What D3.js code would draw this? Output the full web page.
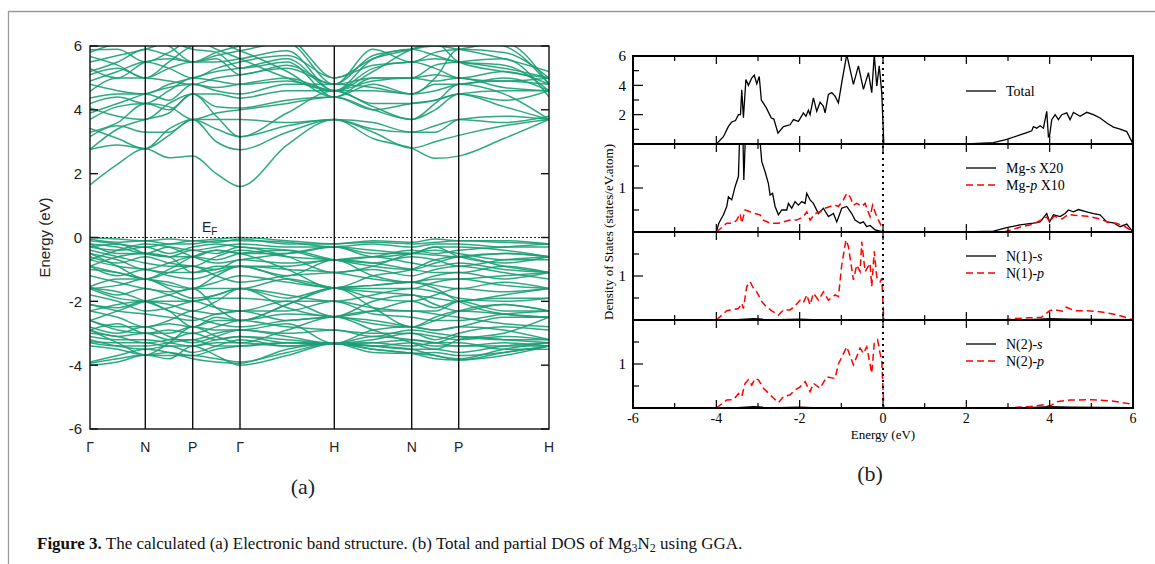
<!DOCTYPE html>
<html>
<head>
<meta charset="utf-8">
<script src="https://cdn.jsdelivr.net/npm/d3@7"></script>
<style>
  body { margin: 0; background: #fff; }
  svg { display: block; }
</style>
</head>
<body>
<script>
// ---------- data ----------
// k-path (distance along path) and labels
var kLabels = ["\u0393", "N", "P", "\u0393", "H", "N", "P", "H"];
var kDist = [0, 55.3, 102.7, 150, 244.3, 321.7, 368.7, 459];

// band energies (eV) at: G, mid, N, mid, P, mid, G, mid, H, mid, N, mid, P, mid, H
var conductionBands = [
  [1.65, 2.3, 2.78, 2.5, 2.55, 2.0, 1.6, 2.9, 3.7, 3.1, 2.8, 2.48, 2.55, 3.1, 3.7],
  [2.76, 2.9, 2.78, 3.2, 3.7, 3.0, 2.75, 3.3, 3.7, 3.3, 2.8, 3.0, 3.2, 3.5, 3.7],
  [3.16, 3.5, 3.3, 3.3, 3.7, 3.4, 3.16, 3.5, 3.7, 3.6, 3.3, 3.3, 3.7, 3.8, 3.7],
  [3.42, 3.1, 2.78, 3.4, 3.7, 3.7, 3.7, 3.6, 3.7, 3.4, 3.3, 3.5, 3.7, 3.6, 3.8],
  [3.7, 4.1, 4.2, 4.0, 4.5, 4.1, 4.06, 4.3, 4.4, 4.0, 3.7, 4.0, 4.5, 4.3, 4.6],
  [4.06, 3.8, 3.7, 4.2, 4.5, 4.5, 4.37, 4.6, 4.6, 4.2, 4.2, 4.3, 4.5, 4.6, 4.6],
  [4.37, 4.5, 4.5, 4.3, 4.8, 4.7, 4.8, 5.0, 4.6, 4.6, 4.5, 4.8, 4.8, 5.0, 4.6],
  [4.58, 5.0, 5.0, 4.9, 4.8, 5.0, 5.1, 5.3, 4.8, 5.0, 5.0, 5.1, 5.0, 5.2, 4.8],
  [4.8, 4.6, 4.5, 4.8, 5.0, 5.2, 5.3, 5.6, 4.6, 5.3, 5.5, 5.3, 5.0, 4.9, 5.0],
  [5.1, 5.3, 5.0, 5.3, 5.5, 5.5, 5.6, 5.85, 4.6, 5.6, 5.9, 5.7, 5.5, 5.4, 4.6],
  [5.3, 5.0, 5.5, 5.6, 5.5, 5.7, 5.85, 6.1, 4.8, 5.9, 5.5, 5.8, 5.9, 6.1, 4.8],
  [5.5, 5.7, 5.9, 6.1, 5.9, 5.8, 5.3, 5.5, 4.4, 5.0, 5.0, 5.4, 5.5, 5.6, 4.4],
  [5.67, 5.4, 5.0, 5.5, 6.0, 6.1, 5.85, 5.2, 4.4, 4.8, 4.5, 5.0, 5.9, 5.8, 5.0],
  [5.88, 5.9, 5.5, 5.8, 6.2, 5.9, 5.6, 5.0, 4.6, 5.2, 5.9, 6.1, 6.2, 6.0, 4.8],
  [2.76, 3.4, 3.7, 3.9, 4.5, 3.8, 3.16, 3.9, 4.6, 4.1, 3.7, 4.2, 4.8, 4.5, 3.7],
  [3.9, 4.2, 4.5, 4.7, 4.8, 4.6, 4.5, 4.8, 4.8, 4.7, 4.5, 4.6, 4.8, 4.9, 4.8],
  [4.2, 4.4, 4.2, 4.6, 5.0, 4.9, 4.8, 4.9, 4.6, 4.9, 5.0, 4.9, 5.0, 4.7, 4.6],
  [4.9, 5.2, 5.5, 5.3, 5.0, 5.3, 5.5, 5.7, 5.0, 5.4, 5.5, 5.6, 5.5, 5.3, 5.0],
  [5.2, 5.5, 5.9, 5.7, 5.5, 5.6, 5.1, 5.4, 4.8, 5.7, 5.9, 6.0, 5.9, 5.6, 5.2],
  [3.3, 3.6, 4.2, 4.1, 3.7, 3.9, 4.0, 4.2, 4.4, 4.0, 4.2, 4.3, 4.5, 4.1, 3.7],
  [5.8, 6.1, 6.3, 6.0, 5.5, 5.8, 6.0, 6.2, 5.0, 5.6, 5.9, 6.1, 5.5, 5.2, 5.0]
];
var valenceBands = [
  [0, -0.05, -0.1, -0.05, -0.1, -0.05, 0, -0.1, -0.2, -0.1, -0.15, -0.05, -0.1, -0.1, -0.2],
  [-0.05, -0.15, -0.1, -0.2, -0.1, -0.15, -0.05, -0.2, -0.2, -0.15, -0.2, -0.15, -0.1, -0.15, -0.2],
  [-0.2, -0.3, -0.5, -0.3, -0.4, -0.3, -0.2, -0.3, -0.3, -0.4, -0.5, -0.3, -0.3, -0.4, -0.6],
  [-0.2, -0.5, -0.5, -0.6, -0.6, -0.4, -0.5, -0.5, -0.3, -0.5, -0.5, -0.55, -0.6, -0.5, -0.6],
  [-0.5, -0.7, -1.0, -0.8, -0.6, -0.7, -0.5, -0.4, -0.7, -0.9, -1.0, -0.8, -0.6, -0.5, -0.6],
  [-0.7, -0.9, -1.0, -1.1, -1.1, -0.9, -0.9, -0.9, -0.7, -0.8, -1.0, -1.1, -1.1, -0.9, -1.1],
  [-0.9, -0.6, -0.5, -0.6, -1.1, -1.0, -0.9, -1.2, -0.7, -1.2, -1.4, -1.2, -1.1, -1.3, -1.1],
  [-0.9, -1.1, -1.3, -1.4, -1.6, -1.2, -0.9, -1.3, -1.58, -1.5, -1.4, -1.5, -1.6, -1.4, -1.6],
  [-1.54, -1.3, -1.3, -1.5, -1.6, -1.6, -1.6, -1.3, -1.58, -1.7, -1.8, -1.9, -2.0, -1.8, -1.6],
  [-1.54, -1.8, -1.6, -1.8, -2.0, -1.8, -1.6, -1.9, -1.58, -1.9, -2.0, -1.8, -1.6, -1.7, -1.6],
  [-1.6, -1.9, -2.0, -2.1, -2.3, -2.0, -1.6, -2.2, -2.48, -2.0, -1.8, -2.1, -2.3, -2.1, -2.3],
  [-2.1, -2.2, -2.0, -2.0, -2.0, -2.2, -2.3, -2.0, -2.48, -2.3, -2.0, -2.2, -2.0, -2.3, -2.3],
  [-2.3, -2.5, -2.8, -2.6, -2.3, -2.4, -2.3, -2.6, -2.48, -2.7, -2.8, -2.5, -2.3, -2.4, -2.5],
  [-2.6, -2.8, -2.8, -2.7, -2.8, -2.6, -2.6, -2.4, -2.48, -2.6, -2.8, -2.9, -2.8, -2.5, -2.5],
  [-2.9, -2.7, -3.0, -3.0, -2.8, -2.9, -2.9, -2.7, -3.32, -2.9, -2.8, -2.9, -2.8, -2.9, -3.2],
  [-2.9, -3.1, -3.0, -3.2, -3.2, -3.0, -2.9, -3.1, -3.32, -3.2, -3.0, -3.1, -3.2, -3.1, -3.2],
  [-3.1, -3.2, -3.2, -3.3, -3.4, -3.2, -3.1, -3.2, -3.32, -3.3, -3.2, -3.3, -3.4, -3.3, -3.4],
  [-3.27, -3.3, -3.3, -3.4, -3.4, -3.3, -3.3, -3.4, -3.32, -3.4, -3.3, -3.4, -3.4, -3.4, -3.4],
  [-3.4, -3.5, -3.68, -3.6, -3.7, -3.5, -3.4, -3.3, -3.32, -3.5, -3.63, -3.7, -3.84, -3.6, -3.4],
  [-3.94, -3.8, -3.68, -3.7, -3.7, -3.8, -3.9, -3.6, -3.32, -3.5, -3.63, -3.8, -3.84, -3.7, -3.4],
  [-4.0, -3.9, -3.68, -3.8, -3.4, -3.7, -4.0, -3.7, -3.32, -3.6, -3.63, -3.6, -3.7, -3.6, -3.4],
  [-1.6, -1.7, -2.0, -2.3, -2.8, -2.5, -2.6, -2.1, -1.58, -2.2, -2.8, -2.6, -2.3, -2.1, -2.3],
  [-2.6, -2.3, -2.0, -1.8, -1.6, -2.2, -2.6, -2.1, -1.58, -1.5, -1.4, -1.6, -2.0, -2.4, -2.5],
  [-0.5, -0.9, -1.3, -1.0, -0.6, -0.4, -0.5, -1.0, -1.58, -1.2, -1.0, -0.7, -0.6, -0.9, -1.1],
  [-0.7, -0.4, -0.2, -0.3, -0.6, -0.8, -0.7, -0.5, -0.29, -0.6, -0.5, -0.3, -0.6, -0.8, -0.6],
  [-2.9, -3.3, -3.68, -3.3, -2.8, -3.1, -3.3, -2.9, -2.48, -2.9, -3.3, -3.5, -3.2, -3.0, -2.5],
  [-0.1, -0.2, -0.3, -0.2, -0.2, -0.1, -0.1, -0.15, -0.29, -0.2, -0.3, -0.2, -0.2, -0.3, -0.3],
  [-0.3, -0.4, -0.3, -0.5, -0.3, -0.2, -0.3, -0.4, -0.7, -0.6, -0.4, -0.5, -0.4, -0.3, -0.2],
  [-0.4, -0.6, -0.8, -0.9, -0.9, -0.6, -0.4, -0.6, -0.7, -0.8, -0.6, -0.7, -0.9, -0.7, -0.6],
  [-0.6, -0.8, -0.6, -0.8, -0.9, -1.0, -0.7, -0.8, -0.7, -0.6, -0.8, -0.9, -0.8, -1.0, -1.1],
  [-0.9, -1.2, -1.0, -1.2, -1.3, -1.1, -0.9, -1.0, -1.1, -1.3, -1.4, -1.3, -1.3, -1.2, -1.1],
  [-1.0, -1.1, -1.3, -1.1, -0.9, -1.2, -1.4, -1.2, -1.1, -1.0, -1.2, -1.0, -0.9, -1.1, -1.3],
  [-1.6, -1.5, -1.3, -1.6, -1.9, -1.8, -1.6, -1.8, -2.0, -1.8, -1.6, -1.7, -1.9, -2.0, -1.9],
  [-1.8, -2.0, -2.3, -2.2, -2.0, -1.9, -1.9, -2.0, -2.0, -2.2, -2.3, -2.3, -2.0, -1.9, -1.9],
  [-2.1, -2.3, -2.4, -2.5, -2.6, -2.4, -2.3, -2.3, -2.0, -2.4, -2.5, -2.6, -2.6, -2.4, -2.3],
  [-2.3, -2.1, -2.0, -2.3, -2.5, -2.7, -2.8, -2.6, -2.48, -2.3, -2.3, -2.4, -2.5, -2.7, -2.8],
  [-2.6, -2.9, -3.0, -2.9, -3.0, -2.8, -2.6, -2.8, -2.9, -3.0, -3.0, -3.2, -3.0, -2.8, -2.9],
  [-2.8, -3.0, -2.8, -3.1, -3.3, -3.1, -2.9, -3.0, -2.9, -3.1, -2.9, -3.0, -3.1, -3.2, -3.2],
  [-3.0, -3.1, -3.3, -3.2, -3.0, -3.2, -3.1, -3.3, -3.32, -3.1, -3.2, -3.3, -3.1, -3.2, -3.3],
  [-3.2, -3.4, -3.5, -3.4, -3.6, -3.4, -3.2, -3.4, -3.32, -3.4, -3.5, -3.5, -3.6, -3.4, -3.3],
  [-3.3, -3.4, -3.4, -3.3, -3.2, -3.4, -3.4, -3.3, -3.32, -3.3, -3.4, -3.3, -3.3, -3.5, -3.5],
  [-3.9, -3.7, -3.5, -3.6, -3.8, -3.9, -3.94, -3.5, -3.32, -3.4, -3.5, -3.7, -3.8, -3.5, -3.3],
  [-1.2, -1.4, -1.6, -1.7, -1.6, -1.4, -1.2, -1.4, -1.58, -1.6, -1.6, -1.4, -1.3, -1.5, -1.6],
  [-0.3, -0.2, -0.5, -0.6, -0.4, -0.5, -0.3, -0.6, -1.1, -0.9, -0.5, -0.4, -0.5, -0.7, -0.7]
];
var bandTicks = [-6, -4, -2, 0, 2, 4, 6];

// DOS (states/eV.atom) as [energy, value]
var totalDos = [[-6,0],[-4,0],[-3.83,0.5],[-3.71,1.2],[-3.63,1.5],[-3.54,1.6],[-3.47,2.0],[-3.42,2.0],[-3.39,3.7],[-3.35,1.8],[-3.29,4.4],[-3.23,4.0],[-3.15,4.5],[-3.09,4.7],[-3.03,4.1],[-2.97,4.6],[-2.92,3.0],[-2.8,2.46],[-2.68,1.77],[-2.62,1.7],[-2.52,0.74],[-2.39,1.19],[-2.23,1.31],[-2.15,1.66],[-2.03,1.54],[-1.91,2.12],[-1.85,1.89],[-1.79,2.3],[-1.75,2.0],[-1.67,3.15],[-1.59,2.23],[-1.51,2.85],[-1.43,2.57],[-1.39,2.12],[-1.31,3.38],[-1.23,3.5],[-1.15,3.26],[-1.07,2.8],[-0.99,4.18],[-0.87,6.1],[-0.71,4.07],[-0.59,5.33],[-0.47,3.72],[-0.35,4.87],[-0.27,3.5],[-0.21,6.1],[-0.15,3.95],[-0.09,5.33],[-0.03,3.5],[0.02,0],[2.0,0],[2.65,0.09],[2.97,0.32],[3.29,0.62],[3.45,0.78],[3.57,0.9],[3.61,1.19],[3.69,1.08],[3.77,1.24],[3.85,1.08],[3.93,2.23],[3.97,0.5],[4.0,0.6],[4.05,1.66],[4.13,2.0],[4.21,1.66],[4.29,2.0],[4.41,2.12],[4.49,1.66],[4.57,2.16],[4.73,1.89],[4.89,2.16],[5.05,2.0],[5.21,1.77],[5.37,1.43],[5.53,1.15],[5.69,1.01],[5.85,0.85],[6.0,0]];
var mgS = [[-6,0],[-4,0],[-3.94,0.2],[-3.83,0.39],[-3.75,0.58],[-3.71,0.8],[-3.63,0.73],[-3.55,1.03],[-3.47,1.26],[-3.43,2.5],[-3.37,2.5],[-3.34,1.18],[-3.29,2.5],[-2.99,2.5],[-2.91,1.6],[-2.83,1.37],[-2.75,1.1],[-2.71,0.84],[-2.65,0.88],[-2.59,0.58],[-2.51,0.39],[-2.43,0.5],[-2.31,0.5],[-2.27,0.65],[-2.19,0.54],[-2.11,0.69],[-2.03,0.61],[-1.95,0.69],[-1.87,0.65],[-1.83,0.88],[-1.75,0.73],[-1.67,0.65],[-1.55,0.42],[-1.43,0.54],[-1.31,0.35],[-1.19,0.42],[-1.11,0.23],[-0.99,0.54],[-0.87,0.58],[-0.75,0.42],[-0.67,0.27],[-0.55,0.2],[-0.47,0.23],[-0.39,0.12],[-0.31,0.15],[-0.19,0.05],[0,0],[2.0,0],[2.65,0.02],[2.97,0.1],[3.29,0.16],[3.61,0.2],[3.77,0.23],[3.93,0.42],[4.0,0.23],[4.09,0.39],[4.25,0.35],[4.37,0.42],[4.45,0.5],[4.57,0.46],[4.69,0.51],[4.89,0.46],[5.05,0.42],[5.21,0.39],[5.37,0.23],[5.53,0.21],[5.69,0.12],[5.85,0.18],[6.0,0]];
var mgP = [[-4,0],[-3.75,0.2],[-3.59,0.2],[-3.51,0.27],[-3.43,0.42],[-3.39,0.2],[-3.31,0.5],[-3.19,0.46],[-3.07,0.42],[-2.95,0.39],[-2.87,0.27],[-2.71,0.2],[-2.51,0.2],[-2.39,0.23],[-2.23,0.27],[-2.07,0.27],[-1.91,0.35],[-1.83,0.46],[-1.75,0.27],[-1.63,0.42],[-1.51,0.46],[-1.39,0.54],[-1.27,0.58],[-1.15,0.61],[-1.07,0.58],[-0.95,0.73],[-0.87,0.88],[-0.79,0.8],[-0.71,0.61],[-0.63,0.65],[-0.51,0.58],[-0.43,0.65],[-0.31,0.35],[-0.25,0.61],[-0.15,0.35],[-0.03,0.12],[0,0],null,[2.9,0],[3.29,0.11],[3.61,0.18],[3.93,0.34],[4.0,0.23],[4.1,0.36],[4.3,0.3],[4.45,0.4],[4.6,0.38],[4.9,0.36],[5.2,0.3],[5.4,0.22],[5.6,0.2],[5.8,0.13],[6.0,0]];
var n1S = [[-6,0],[-4,0],[-3.5,0.01],[-3.1,0.03],[-2.9,0.02],[-2.5,0.01],[-2.0,0.02],[-1.7,0.01],[-1,0.01],[0,0],[2,0],[3.5,0.01],[4.0,0.03],[4.5,0.02],[6.0,0.01]];
var n1P = [[-4,0],[-3.75,0.21],[-3.59,0.24],[-3.47,0.26],[-3.39,0.38],[-3.35,0.26],[-3.27,0.76],[-3.19,0.87],[-3.11,0.72],[-3.03,0.64],[-2.91,0.42],[-2.79,0.29],[-2.67,0.21],[-2.51,0.11],[-2.39,0.23],[-2.23,0.23],[-2.11,0.32],[-1.99,0.45],[-1.91,0.39],[-1.83,0.57],[-1.75,0.34],[-1.67,0.61],[-1.55,0.45],[-1.43,0.64],[-1.31,0.45],[-1.15,0.57],[-1.07,0.53],[-0.99,1.25],[-0.89,1.82],[-0.83,1.67],[-0.71,0.91],[-0.63,1.25],[-0.55,1.1],[-0.51,1.78],[-0.43,1.1],[-0.31,1.29],[-0.27,0.76],[-0.21,1.56],[-0.15,0.98],[-0.07,0.87],[-0.03,0.95],[0.02,0],null,[2.9,0],[3.1,0.03],[3.5,0.05],[3.8,0.06],[4.0,0.21],[4.1,0.24],[4.3,0.2],[4.4,0.29],[4.6,0.21],[4.9,0.21],[5.2,0.19],[5.6,0.12],[5.9,0.04],[6.0,0]];
var n2S = [[-6,0],[-4,0],[-3.5,0.01],[-3.1,0.03],[-2.9,0.02],[-2.5,0.01],[-2.0,0.02],[-1.7,0.01],[-1,0.01],[0,0],[2,0],[3.5,0.01],[4.0,0.03],[4.5,0.02],[6.0,0.01]];
var n2P = [[-4,0],[-3.75,0.18],[-3.59,0.19],[-3.47,0.33],[-3.39,0.26],[-3.31,0.56],[-3.23,0.64],[-3.15,0.52],[-3.07,0.67],[-2.99,0.64],[-2.87,0.45],[-2.71,0.3],[-2.51,0.12],[-2.39,0.26],[-2.23,0.3],[-2.11,0.41],[-1.99,0.48],[-1.87,0.6],[-1.75,0.37],[-1.67,0.56],[-1.51,0.45],[-1.35,0.71],[-1.15,0.67],[-1.07,1.0],[-0.87,1.39],[-0.71,0.98],[-0.55,1.36],[-0.47,1.24],[-0.39,1.39],[-0.27,0.79],[-0.21,1.47],[-0.13,1.55],[-0.07,1.24],[-0.03,1.09],[0.02,0],null,[2.9,0],[3.5,0.03],[3.9,0.08],[4.0,0.04],[4.2,0.15],[4.5,0.18],[5.0,0.19],[5.5,0.16],[5.9,0.1],[6.0,0]];

var dosPanels = [
  {max: 6, ticks: [2, 4, 6], minor: [1, 3, 5], curves: [{d: totalDos, dash: false, name: "Total"}]},
  {max: 2, ticks: [1], minor: [0.5, 1.5], curves: [{d: mgS, dash: false, name: ["Mg-", "s", " X20"]}, {d: mgP, dash: true, name: ["Mg-", "p", " X10"]}]},
  {max: 2, ticks: [1], minor: [0.5, 1.5], curves: [{d: n1S, dash: false, name: ["N(1)-", "s", ""]}, {d: n1P, dash: true, name: ["N(1)-", "p", ""]}]},
  {max: 2, ticks: [1], minor: [0.5, 1.5], curves: [{d: n2S, dash: false, name: ["N(2)-", "s", ""]}, {d: n2P, dash: true, name: ["N(2)-", "p", ""]}]}
];
var dosTicks = [-6, -4, -2, 0, 2, 4, 6];

// ---------- svg ----------
var width = 1155, height = 564;
var svg = d3.select("body").append("svg")
  .attr("width", width).attr("height", height);
svg.append("rect").attr("width", width).attr("height", height).attr("fill", "#fff");

// figure border (top and left)
svg.append("path").attr("d", "M8.5,564V11.5H1155")
  .attr("fill", "none").attr("stroke", "#9a9a9a").attr("stroke-width", 1.3);

// ---------- (a) band structure ----------
var bx0 = 90, bx1 = 549, by0 = 46, by1 = 429;
var kx = d3.scaleLinear().domain([0, kDist[kDist.length - 1]]).range([bx0, bx1]);
var ey = d3.scaleLinear().domain([-6, 6]).range([by1, by0]);
var green = "#1b9e77";

// positions of the 15 band samples (points and segment midpoints)
var kSample = [];
kDist.forEach(function(k, i) {
  kSample.push(k);
  if (i < kDist.length - 1) kSample.push((k + kDist[i + 1]) / 2);
});

svg.append("clipPath").attr("id", "bandClip").append("rect")
  .attr("x", bx0).attr("y", by0).attr("width", bx1 - bx0).attr("height", by1 - by0);

var bandLine = d3.line()
  .x(function(d, i) { return kx(kSample[i]); })
  .y(function(d) { return ey(d); })
  .curve(d3.curveMonotoneX);

var bands = svg.append("g").attr("clip-path", "url(#bandClip)");
bands.selectAll("path.band")
  .data(conductionBands.concat(valenceBands))
  .enter().append("path")
  .attr("class", "band")
  .attr("d", bandLine)
  .attr("fill", "none")
  .attr("stroke", green)
  .attr("stroke-width", 1.5)
  .attr("stroke-opacity", 0.9);

// Fermi level
svg.append("line")
  .attr("x1", bx0).attr("x2", bx1).attr("y1", ey(0)).attr("y2", ey(0))
  .attr("stroke", "#222").attr("stroke-width", 1).attr("stroke-dasharray", "2,2");

// high symmetry lines
svg.selectAll("line.ksym")
  .data(kDist.slice(1, -1))
  .enter().append("line")
  .attr("x1", function(d) { return kx(d); }).attr("x2", function(d) { return kx(d); })
  .attr("y1", by0).attr("y2", by1)
  .attr("stroke", "#111").attr("stroke-width", 1.4);

svg.append("rect")
  .attr("x", bx0).attr("y", by0).attr("width", bx1 - bx0).attr("height", by1 - by0)
  .attr("fill", "none").attr("stroke", "#111").attr("stroke-width", 1.4);

// y ticks (inside, both sides)
bandTicks.forEach(function(t) {
  svg.append("line").attr("x1", bx0).attr("x2", bx0 + 8).attr("y1", ey(t)).attr("y2", ey(t))
    .attr("stroke", "#111").attr("stroke-width", 1.4);
  svg.append("line").attr("x1", bx1 - 8).attr("x2", bx1).attr("y1", ey(t)).attr("y2", ey(t))
    .attr("stroke", "#111").attr("stroke-width", 1.4);
});
svg.selectAll("text.bt")
  .data(bandTicks)
  .enter().append("text")
  .attr("x", 82).attr("y", function(d) { return ey(d); })
  .attr("dy", "0.36em")
  .attr("text-anchor", "end")
  .attr("font-family", "Liberation Sans, Arial, sans-serif")
  .attr("font-size", 15)
  .attr("fill", "#222")
  .text(function(d) { return d; });

svg.selectAll("text.kl")
  .data(kLabels)
  .enter().append("text")
  .attr("x", function(d, i) { return kx(kDist[i]); })
  .attr("y", 452)
  .attr("text-anchor", "middle")
  .attr("font-family", "Liberation Sans, Arial, sans-serif")
  .attr("font-size", 14)
  .attr("fill", "#222")
  .text(function(d) { return d; });

svg.append("text")
  .attr("transform", "translate(50," + ey(0) + ") rotate(-90)")
  .attr("text-anchor", "middle")
  .attr("font-family", "Liberation Sans, Arial, sans-serif")
  .attr("font-size", 15)
  .attr("fill", "#222")
  .text("Energy (eV)");

var ef = svg.append("text")
  .attr("x", 202).attr("y", 232)
  .attr("font-family", "Liberation Sans, Arial, sans-serif")
  .attr("font-size", 14)
  .attr("fill", "#222");
ef.append("tspan").text("E");
ef.append("tspan").attr("font-size", 10).attr("dy", 3).text("F");

svg.append("text")
  .attr("x", 303).attr("y", 494)
  .attr("text-anchor", "middle")
  .attr("font-family", "Liberation Serif, serif")
  .attr("font-size", 22)
  .attr("fill", "#222")
  .text("(a)");

// ---------- (b) DOS ----------
var dx0 = 633, dx1 = 1133, dTop = 56, dPanelH = 88;
var ex = d3.scaleLinear().domain([-6, 6]).range([dx0, dx1]);
var serif = "Liberation Serif, Times New Roman, serif";

dosPanels.forEach(function(p, i) {
  var top = dTop + i * dPanelH, bottom = top + dPanelH;
  var vy = d3.scaleLinear().domain([0, p.max]).range([bottom, top]);
  var g = svg.append("g");

  g.append("clipPath").attr("id", "dosClip" + i).append("rect")
    .attr("x", dx0).attr("y", top).attr("width", dx1 - dx0).attr("height", dPanelH);

  var line = d3.line()
    .defined(function(d) { return d !== null; })
    .x(function(d) { return ex(d[0]); })
    .y(function(d) { return vy(d[1]); });

  var cg = g.append("g").attr("clip-path", "url(#dosClip" + i + ")");
  p.curves.forEach(function(c) {
    cg.append("path")
      .attr("d", line(c.d))
      .attr("fill", "none")
      .attr("stroke", c.dash ? "#ff0000" : "#000")
      .attr("stroke-width", c.dash ? 1.5 : 1.3)
      .attr("stroke-dasharray", c.dash ? "7,4" : null);
  });

  // ticks
  d3.range(-5, 6).forEach(function(e) {
    var len = e % 2 === 0 ? 8 : 5;
    g.append("line").attr("x1", ex(e)).attr("x2", ex(e)).attr("y1", bottom).attr("y2", bottom - len)
      .attr("stroke", "#000").attr("stroke-width", 1.2);
    g.append("line").attr("x1", ex(e)).attr("x2", ex(e)).attr("y1", top).attr("y2", top + len)
      .attr("stroke", "#000").attr("stroke-width", 1.2);
  });
  p.ticks.forEach(function(t) {
    g.append("line").attr("x1", dx0).attr("x2", dx0 + 10).attr("y1", vy(t)).attr("y2", vy(t))
      .attr("stroke", "#000").attr("stroke-width", 1.2);
    g.append("text")
      .attr("x", 626).attr("y", vy(t)).attr("dy", "0.35em")
      .attr("text-anchor", "end")
      .attr("font-family", serif).attr("font-size", 15)
      .text(t);
  });
  p.minor.forEach(function(t) {
    g.append("line").attr("x1", dx0).attr("x2", dx0 + 6).attr("y1", vy(t)).attr("y2", vy(t))
      .attr("stroke", "#000").attr("stroke-width", 1.2);
  });

  // legend
  p.curves.forEach(function(c, j) {
    var ly = (i === 0 ? top + 35 : top + 24 + j * 17);
    g.append("line")
      .attr("x1", 966).attr("x2", 996).attr("y1", ly).attr("y2", ly)
      .attr("stroke", c.dash ? "#ff0000" : "#000")
      .attr("stroke-width", c.dash ? 1.5 : 1.3)
      .attr("stroke-dasharray", c.dash ? "7,4" : null);
    var lt = g.append("text")
      .attr("x", 1006).attr("y", ly).attr("dy", "0.35em")
      .attr("font-family", serif).attr("font-size", 14);
    if (typeof c.name === "string") {
      lt.text(c.name);
    } else {
      lt.append("tspan").text(c.name[0]);
      lt.append("tspan").attr("font-style", "italic").text(c.name[1]);
      lt.append("tspan").text(c.name[2]);
    }
  });

  g.append("rect")
    .attr("x", dx0).attr("y", top).attr("width", dx1 - dx0).attr("height", dPanelH)
    .attr("fill", "none").attr("stroke", "#000").attr("stroke-width", 2);
});

var dBottom = dTop + 4 * dPanelH;
// Fermi level
svg.append("line")
  .attr("x1", ex(0)).attr("x2", ex(0)).attr("y1", dTop).attr("y2", dBottom)
  .attr("stroke", "#000").attr("stroke-width", 2).attr("stroke-dasharray", "2,4");

svg.selectAll("text.dx")
  .data(dosTicks)
  .enter().append("text")
  .attr("x", function(d) { return ex(d); })
  .attr("y", dBottom + 15)
  .attr("text-anchor", "middle")
  .attr("font-family", serif).attr("font-size", 14)
  .text(function(d) { return d; });

svg.append("text")
  .attr("x", ex(0)).attr("y", dBottom + 31)
  .attr("text-anchor", "middle")
  .attr("font-family", serif).attr("font-size", 13)
  .text("Energy (eV)");

svg.append("text")
  .attr("transform", "translate(613," + (dTop + 2 * dPanelH) + ") rotate(-90)")
  .attr("text-anchor", "middle")
  .attr("font-family", serif).attr("font-size", 13)
  .text("Density of States (states/eV.atom)");

svg.append("text")
  .attr("x", 870).attr("y", 481)
  .attr("text-anchor", "middle")
  .attr("font-family", serif)
  .attr("font-size", 22)
  .attr("fill", "#222")
  .text("(b)");

// ---------- caption ----------
var cap = svg.append("text")
  .attr("x", 37).attr("y", 549)
  .attr("font-family", serif)
  .attr("font-size", 17)
  .attr("fill", "#111");
cap.append("tspan").attr("font-weight", "bold").text("Figure 3.");
cap.append("tspan").text(" The calculated (a) Electronic band structure. (b) Total and partial DOS of Mg");
cap.append("tspan").attr("font-size", 12).attr("dy", 3).text("3");
cap.append("tspan").attr("dy", -3).text("N");
cap.append("tspan").attr("font-size", 12).attr("dy", 3).text("2");
cap.append("tspan").attr("dy", -3).text(" using GGA.");
</script>
</body>
</html>
